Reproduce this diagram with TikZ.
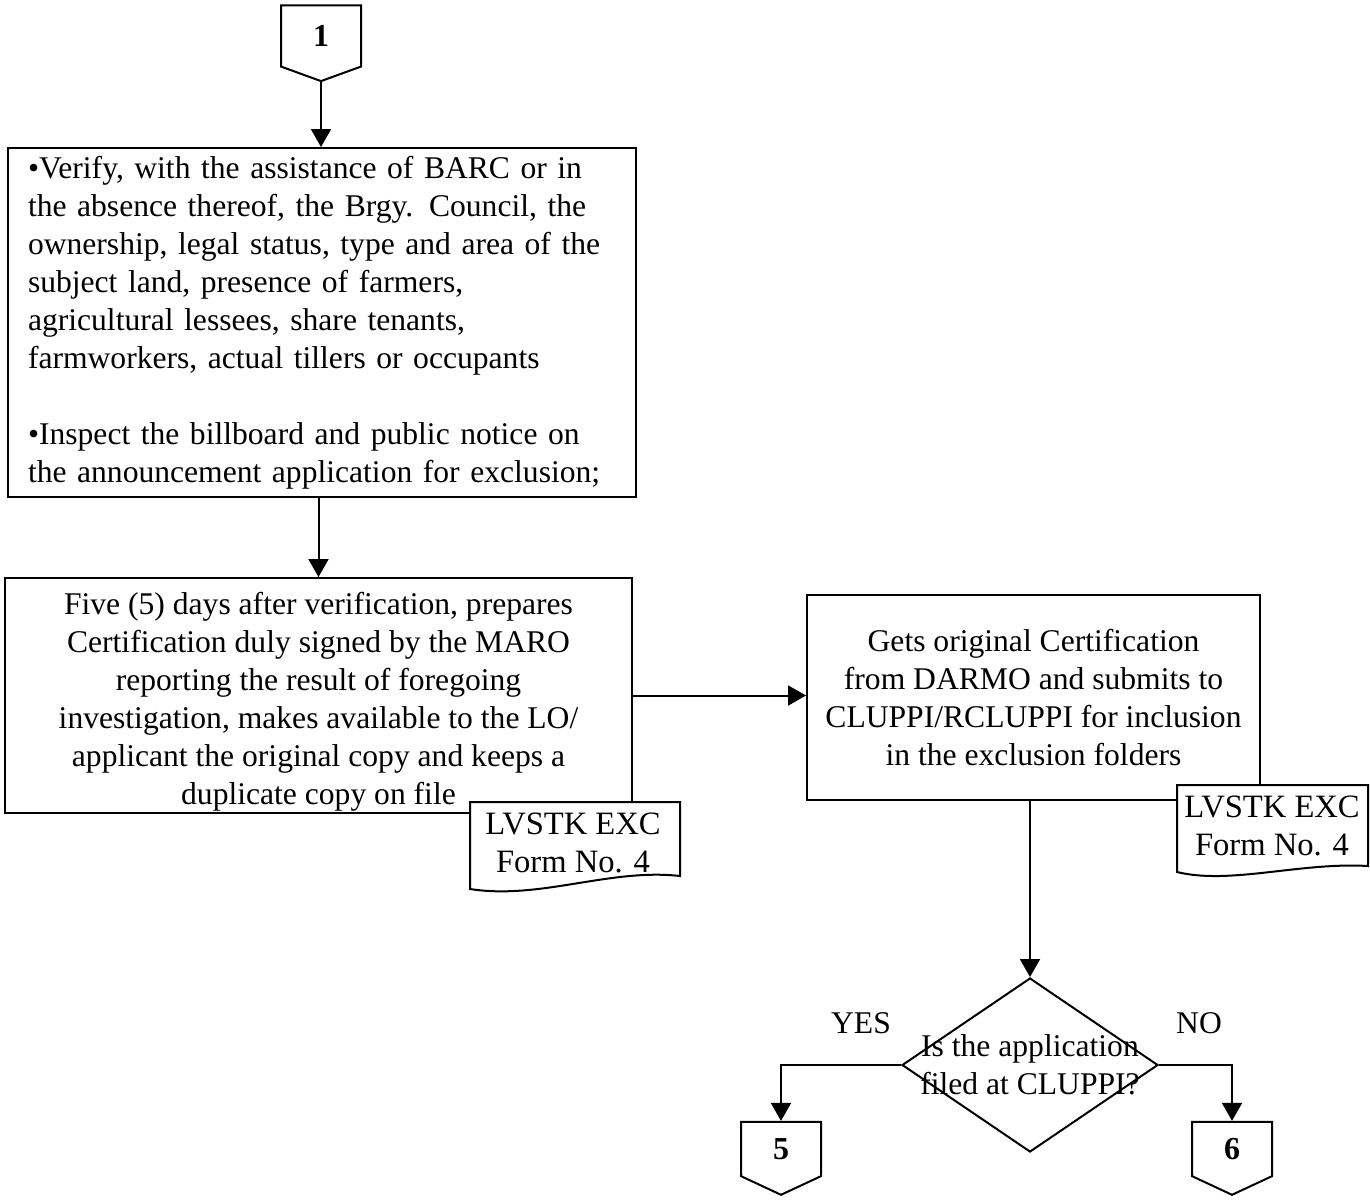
\documentclass[tikz,border=0pt]{standalone}
\usepackage{fontspec}
\setmainfont{Liberation Serif}
\usetikzlibrary{arrows.meta,shapes.geometric,shapes.symbols,positioning}

\tikzset{
  procbox/.style={draw, rectangle, line width=1pt, inner xsep=10pt, inner ysep=4pt},
  offpage/.style={draw, shape=signal, signal to=south, signal pointer angle=130,
    line width=1pt, minimum width=40pt, minimum height=29pt, inner sep=0pt,
    font=\fontsize{16}{19}\selectfont\bfseries},
  decision/.style={draw, diamond, line width=1pt, minimum width=128pt,
    minimum height=87pt, inner sep=0pt},
  formdoc/.style={draw, fill=white, line width=1pt},
  formtext/.style={align=center, inner sep=0pt, font=\fontsize{16.3}{19}\selectfont},
  flow/.style={-{Triangle[length=9pt,width=10pt]}, line width=1pt},
}

\begin{document}
\begin{tikzpicture}[x=0.5pt, y=-0.5pt, font=\fontsize{15.8}{19}\selectfont]
  \useasboundingbox (0,0) rectangle (1370,1201);

  % connector in
  \node[offpage, minimum height=32pt, signal pointer angle=140] (c1) at (321,36) {1};

  % process boxes
  \node[procbox, text width=294pt, minimum width=314pt, minimum height=174.5pt, align=left] (verify) at (322,322.5)
    {\textbullet Verify, with the assistance of BARC or in\\
     the absence thereof, the Brgy. Council, the\\
     ownership, legal status, type and area of the\\
     subject land, presence of farmers,\\
     agricultural lessees, share tenants,\\
     farmworkers, actual tillers or occupants\\[19pt]
     \textbullet Inspect the billboard and public notice on\\
     the announcement application for exclusion;};
  \node[procbox, inner ysep=0pt, minimum width=313.5pt, minimum height=117.5pt, align=center] (certify) at (318.5,695.5)
    {\rule{0pt}{17pt}Five (5) days after verification, prepares\\
     Certification duly signed by the MARO\\
     reporting the result of foregoing\\
     investigation, makes available to the LO/\\
     applicant the original copy and keeps a\\
     duplicate copy on file};
  \node[procbox, inner xsep=3pt, minimum width=226.5pt, minimum height=102.5pt, align=center] (submit) at (1033.5,697.5)
    {Gets original Certification\\
     from DARMO and submits to\\
     CLUPPI/RCLUPPI for inclusion\\
     in the exclusion folders};

  % form documents
  \draw[formdoc] (470,802) -- (680,802) -- (680,876)
    .. controls (610,868) and (540,900) .. (470,889) -- cycle;
  \node[formtext] (form1) at (573,843) {LVSTK EXC\\Form No. 4};
  \draw[formdoc] (1177,785) -- (1368,785) -- (1368,866)
    .. controls (1300,862) and (1230,885) .. (1177,872) -- cycle;
  \node[formtext] (form2) at (1272,826) {LVSTK EXC\\Form No. 4};

  % decision
  \node[decision, label={[align=center, inner sep=0pt]center:Is the application\\filed at CLUPPI?}] (query) at (1030,1065) {};
  \node (yes) at (861,1023) {YES};
  \node (no) at (1199,1023) {NO};

  % connectors out
  \node[offpage] (c5) at (781,1149) {5};
  \node[offpage] (c6) at (1232,1149) {6};

  % flow lines
  \draw[flow] (c1.south) -- (c1.south |- verify.north);
  \draw[flow] (certify.north |- verify.south) -- (certify.north);
  \draw[flow] (certify.east) -- (certify.east -| submit.west);
  \draw[flow] (query.north |- submit.south) -- (query.north);
  \draw[flow] (query.west) -| (c5.north);
  \draw[flow] (query.east) -| (c6.north);
\end{tikzpicture}
\end{document}
